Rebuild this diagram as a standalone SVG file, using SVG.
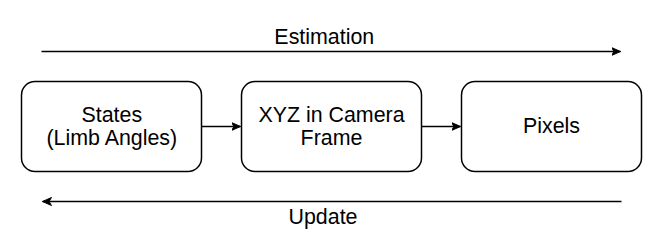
<svg xmlns="http://www.w3.org/2000/svg" width="669" height="245" viewBox="0 0 669 245">
  <style>
    .box { fill: #ffffff; stroke: #000000; stroke-width: 1.5; }
    .edge { fill: none; stroke: #000000; stroke-width: 1.5; }
    .label { font-family: "Liberation Sans", Arial, Helvetica, sans-serif; font-size: 21.4px; fill: #000000; text-anchor: middle; }
  </style>
  <defs>
    <marker id="arrow" viewBox="0 0 10 10" refX="9" refY="5" markerWidth="10" markerHeight="10" markerUnits="userSpaceOnUse" orient="auto">
      <path d="M0,1 L9,5 L0,9 L2.5,5 Z" fill="#000000" stroke="#000000" stroke-width="1"/>
    </marker>
  </defs>
  <rect x="0" y="0" width="669" height="245" fill="#ffffff"/>

  <g id="connectors">
    <path class="edge" d="M41.5,51.5 L620.5,51.5" marker-end="url(#arrow)"/>
    <path class="edge" d="M621.5,201.5 L42.5,201.5" marker-end="url(#arrow)"/>
    <path class="edge" d="M201.5,126.5 L240.5,126.5" marker-end="url(#arrow)"/>
    <path class="edge" d="M421.5,126.5 L460.5,126.5" marker-end="url(#arrow)"/>
    <text class="label" x="324.3" y="44">Estimation</text>
    <text class="label" x="323" y="224">Update</text>
  </g>

  <g id="states">
    <rect class="box" x="21.5" y="81.5" width="180" height="90" rx="13.5" ry="13.5"/>
    <text class="label" x="111.8" y="121.7">States</text>
    <text class="label" x="111.8" y="145">(Limb Angles)</text>
  </g>

  <g id="xyz">
    <rect class="box" x="241.5" y="81.5" width="180" height="90" rx="13.5" ry="13.5"/>
    <text class="label" x="331.5" y="121.7">XYZ in Camera</text>
    <text class="label" x="331.5" y="145">Frame</text>
  </g>

  <g id="pixels">
    <rect class="box" x="461.5" y="81.5" width="180" height="90" rx="13.5" ry="13.5"/>
    <text class="label" x="551.5" y="133.3">Pixels</text>
  </g>
</svg>
